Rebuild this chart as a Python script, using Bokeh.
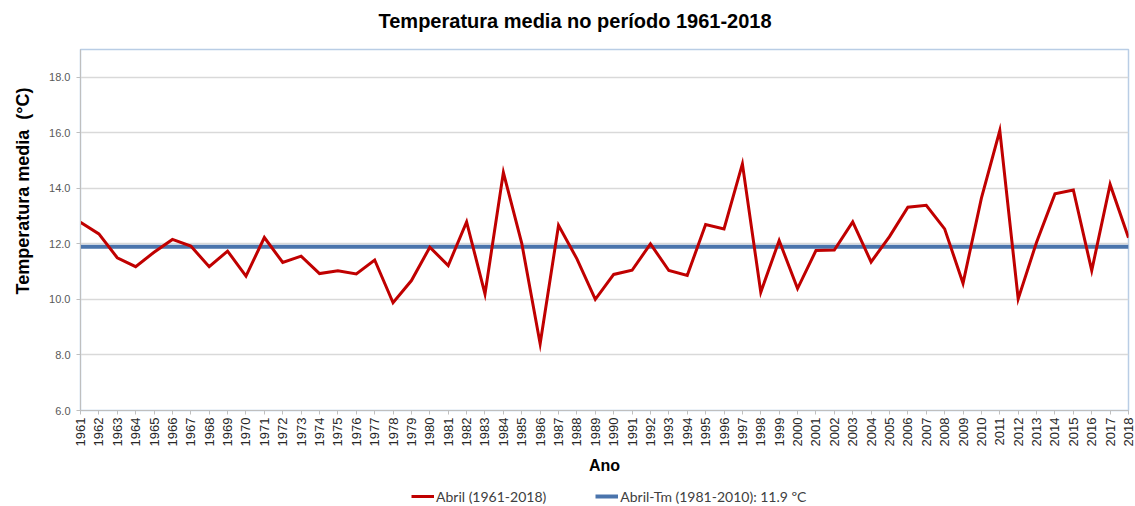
from bokeh.plotting import figure
from bokeh.layouts import column
from bokeh.models import (Range1d, FixedTicker, PrintfTickFormatter, Legend,
                          LegendItem, Title, ColumnDataSource)
from bokeh.embed import file_html
from bokeh.resources import INLINE
import math

years = list(range(1961, 2019))
abril = [12.78, 12.36, 11.50, 11.18, 11.70, 12.16, 11.92, 11.18, 11.74, 10.84,
         12.23, 11.33, 11.56, 10.93, 11.03, 10.92, 11.42, 9.88, 10.68, 11.88,
         11.22, 12.79, 10.20, 14.57, 12.02, 8.40, 12.67, 11.46, 10.00, 10.90,
         11.05, 12.00, 11.04, 10.86, 12.70, 12.54, 14.88, 10.26, 12.12, 10.39,
         11.76, 11.78, 12.79, 11.35, 12.26, 13.32, 13.39, 12.54, 10.58, 13.65,
         16.08, 10.02, 12.06, 13.80, 13.94, 11.04, 14.14, 12.22]
tm_value = 11.9
tm = [tm_value] * len(years)
y_ticks = [6, 8, 10, 12, 14, 16, 18]

title_text = "Temperatura media no período 1961-2018"
y_label = "Temperatura media \u00a0(°C)"
x_label = "Ano"
series_label = "Abril (1961-2018)"
tm_label = "Abril-Tm (1981-2010): 11.9 ºC"

RED = "#C00000"
BLUE = "#4A74AC"

src = ColumnDataSource(dict(x=years, y=abril, tm=tm))

fig = figure(width=1135, height=484, output_backend="svg",
             toolbar_location=None,
             x_range=Range1d(1961, 2018), y_range=Range1d(6, 19),
             min_border_left=80, min_border_right=7, min_border_top=49,
             min_border_bottom=74)

fig.outline_line_color = "#B9CDE5"
fig.outline_line_width = 1.5
fig.background_fill_color = "white"
fig.border_fill_color = "white"

# grid
fig.xgrid.visible = False
fig.ygrid.ticker = FixedTicker(ticks=y_ticks)
fig.ygrid.grid_line_color = "#D9D9D9"
fig.ygrid.grid_line_width = 1.5

# x axis
xa = fig.xaxis[0]
xa.ticker = FixedTicker(ticks=years)
xa.major_label_orientation = math.pi / 2
xa.major_label_text_font = "Liberation Sans"
xa.major_label_text_font_size = "13px"
xa.major_label_text_color = "#262626"
xa.major_label_standoff = 3
xa.major_tick_out = 4
xa.major_tick_in = 0
xa.minor_tick_out = 0
xa.minor_tick_in = 0
xa.axis_line_color = "#BFBFBF"
xa.major_tick_line_color = "#BFBFBF"
xa.axis_label = x_label
xa.axis_label_text_font = "Liberation Sans"
xa.axis_label_text_font_style = "bold"
xa.axis_label_text_font_size = "16px"
xa.axis_label_text_color = "black"
xa.axis_label_standoff = 8

# y axis
ya = fig.yaxis[0]
ya.ticker = FixedTicker(ticks=y_ticks)
ya.formatter = PrintfTickFormatter(format="%.1f")
ya.major_label_text_font = "Liberation Sans"
ya.major_label_text_font_size = "11px"
ya.major_label_text_color = "#595959"
ya.major_label_standoff = 6
ya.major_tick_out = 4
ya.major_tick_in = 0
ya.minor_tick_out = 0
ya.minor_tick_in = 0
ya.axis_line_color = "#BFBFBF"
ya.major_tick_line_color = "#BFBFBF"

r_tm = fig.line("x", "tm", source=src, line_color=BLUE, line_width=4)
r_ab = fig.line("x", "y", source=src, line_color=RED, line_width=3,
                line_join="miter")

# spacer between frame and title, then the title (outer)
spacer = Title(text=" ", text_font_size="10px", standoff=4)
fig.add_layout(spacer, "above")
main_title = Title(text=title_text, align="left", offset=298,
                   text_font="Liberation Sans", text_font_style="bold",
                   text_font_size="20px", text_color="black", standoff=2)
fig.add_layout(main_title, "above")

# y label as a left-side title
ylab = Title(text=y_label, align="right", offset=38, vertical_align="top",
             text_font="Liberation Sans", text_font_style="bold",
             text_font_size="18px", text_color="black", standoff=23)
fig.add_layout(ylab, "left")

# legend strip below the chart (its renderers reuse the real data, which lies
# outside this strip's ranges, so only the legend itself is visible)
leg = figure(width=1135, height=21, output_backend="svg",
             toolbar_location=None, x_range=Range1d(0, 1),
             y_range=Range1d(0, 1), x_axis_location=None,
             y_axis_location=None, min_border=0)
leg.outline_line_color = None
leg.grid.visible = False
l_ab = leg.line("x", "y", source=src, line_color=RED, line_width=3)
l_tm = leg.line("x", "tm", source=src, line_color=BLUE, line_width=4)
legend = Legend(items=[LegendItem(label=series_label, renderers=[l_ab]),
                       LegendItem(label=tm_label, renderers=[l_tm])],
                orientation="horizontal", location=(331, 0),
                label_text_font="Lato", label_text_font_size="14px",
                label_text_color="#404040",
                glyph_width=23, glyph_height=18, label_height=18,
                label_standoff=2, spacing=49, padding=1, margin=0,
                border_line_color=None, background_fill_alpha=0)
leg.add_layout(legend, "center")

p = column(fig, leg, spacing=0)

open("out.html", "w").write(file_html(p, INLINE))
